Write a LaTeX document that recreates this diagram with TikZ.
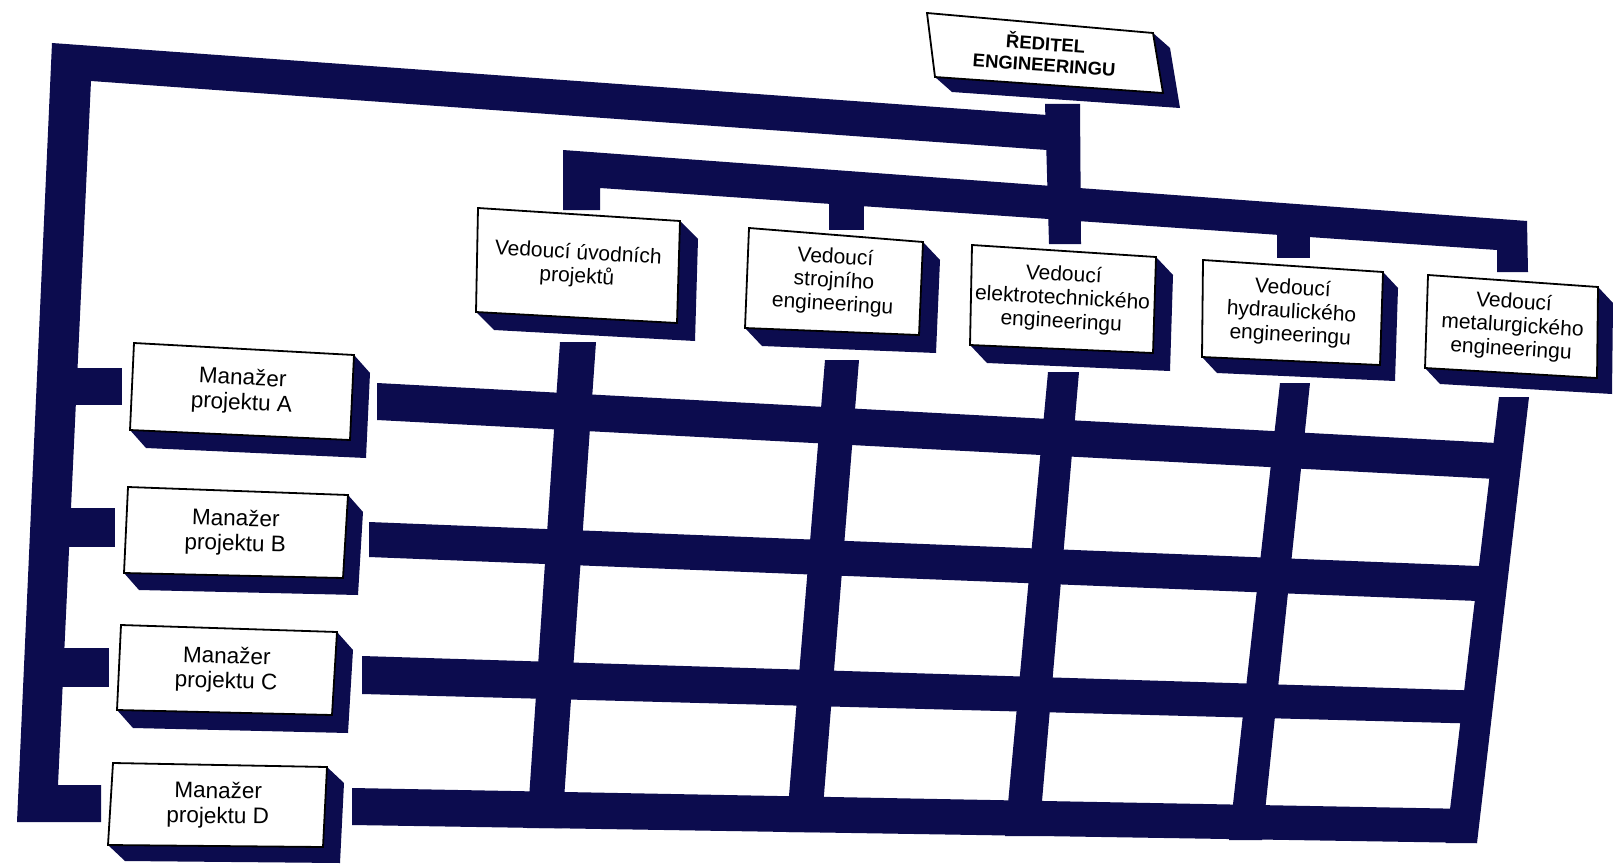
\documentclass[tikz,border=0pt]{standalone}
\usepackage{fontspec}
\setmainfont{Liberation Sans}
\usetikzlibrary{calc}
\definecolor{ink}{RGB}{12,12,78}

% A raised box: white face with a dark side and bottom.
% #1 name, #2 top-left, #3 top-right, #4 bottom-right, #5 bottom-left,
% #6 depth offset, #7 node options, #8 text
\newcommand\slabbox[8]{%
  \coordinate (#1-tl) at (#2);
  \coordinate (#1-tr) at (#3);
  \coordinate (#1-br) at (#4);
  \coordinate (#1-bl) at (#5);
  \fill[ink] (#1-tr) -- ($(#1-tr)+(#6)$) -- ($(#1-br)+(#6)$) -- ($(#1-bl)+(#6)$)
     -- (#1-bl) -- (#1-br) -- cycle;
  \filldraw[face] (#1-tl) -- (#1-tr) -- (#1-br) -- (#1-bl) -- cycle;
  \node[#7] (#1) at ($(#1-tl)!0.5!(#1-br)$) {#8};
}

\begin{document}
\begin{tikzpicture}[x=1pt,y=-1pt,
  bar/.style={fill=ink},
  face/.style={fill=white,draw=black,line width=1.8pt,line join=miter},
  label text/.style={align=center,inner sep=0pt,text=black},
  lead/.style={label text,font=\fontsize{21}{23.5}\selectfont},
  mgr/.style={label text,font=\fontsize{22.5}{25}\selectfont},
  chief/.style={label text,font=\bfseries\fontsize{18.5}{21}\selectfont}]

\useasboundingbox (0,0) rectangle (1613,864);
\fill[white] (0,0) rectangle (1613,864);

% ---- outer frame: top bar, left bar and the arm to project D
\fill[bar] (52,43) -- (1047,115) -- (1047,150) -- (91,81)
  -- (58,785) -- (101,785) -- (101,822) -- (17,822) -- cycle;
% arms to projects A, B, C
\fill[bar] (65,368) rectangle (122,405);
\fill[bar] (60,508) rectangle (115,547);
\fill[bar] (55,648) rectangle (109,687);

% ---- director stem and the bar over the heads of departments
\fill[bar] (1045,104) -- (1080,104) -- (1081,244) -- (1049,244) -- cycle;
\fill[bar] (563,150) -- (1527,221) -- (1528,272) -- (1497,272) -- (1497,250)
  -- (600,188) -- (600,210) -- (563,210) -- cycle;
\fill[bar] (829,198) rectangle (864,230);
\fill[bar] (1277,232) rectangle (1310,258);

% ---- matrix: rows (projects)
\fill[bar] (377,383) -- (1515,444) -- (1515,480) -- (377,420) -- cycle;
\fill[bar] (369,522) -- (1503,567) -- (1503,602) -- (369,557) -- cycle;
\fill[bar] (362,656) -- (1488,691) -- (1488,724) -- (362,694) -- cycle;
\fill[bar] (352,788) -- (1470,809) -- (1477,843) -- (352,825) -- cycle;
% ---- matrix: columns (departments)
\fill[bar] (560,342) -- (596,342) -- (562,828) -- (527,828) -- cycle;
\fill[bar] (825,360) -- (859,360) -- (821,832) -- (786,832) -- cycle;
\fill[bar] (1048,372) -- (1079,372) -- (1039,836) -- (1005,836) -- cycle;
\fill[bar] (1280,383) -- (1310,383) -- (1262,840) -- (1229,840) -- cycle;
\fill[bar] (1499,397) -- (1529,397) -- (1477,843) -- (1446,843) -- cycle;

% ---- director
\slabbox{chief}{927,13}{1153,33}{1163,93}{935,77}{17,15}{chief,rotate=-4}
  {ŘEDITEL\\ENGINEERINGU}

% ---- heads of departments
\slabbox{lead1}{478,208}{680,221}{677,323}{476,312}{18,18}{lead,rotate=-3.4}
  {Vedoucí úvodních\\projektů}
\slabbox{lead2}{749,228}{923,242}{919,335}{745,328}{17,18}{lead,rotate=-3.4}
  {Vedoucí\\strojního\\engineeringu}
\slabbox{lead3}{972,245}{1156,257}{1153,353}{970,345}{17,18}{lead,rotate=-3.1}
  {Vedoucí\\elektrotechnického\\engineeringu}
\slabbox{lead4}{1203,260}{1383,272}{1380,365}{1202,357}{15,16}{lead,rotate=-3.2}
  {Vedoucí\\hydraulického\\engineeringu}
\slabbox{lead5}{1428,275}{1598,287}{1597,378}{1425,368}{15,16}{lead,rotate=-3.7}
  {Vedoucí\\metalurgického\\engineeringu}

% ---- project managers
\slabbox{pmA}{134,343}{354,355}{350,440}{130,430}{16,18}{mgr,rotate=-2.8}
  {Manažer\\projektu A}
\slabbox{pmB}{128,487}{348,495}{343,578}{124,573}{15,17}{mgr,rotate=-1.7}
  {Manažer\\projektu B}
\slabbox{pmC}{121,625}{337,632}{332,715}{117,710}{16,18}{mgr,rotate=-1.6}
  {Manažer\\projektu C}
\slabbox{pmD}{113,763}{327,767}{323,847}{108,845}{17,16}{mgr,rotate=-0.9}
  {Manažer\\projektu D}

\end{tikzpicture}
\end{document}
